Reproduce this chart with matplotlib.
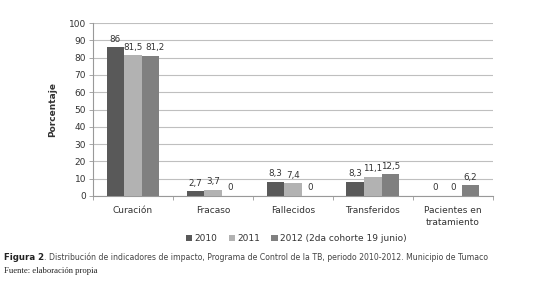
import numpy as np
import matplotlib.pyplot as plt

categories = ["Curación", "Fracaso", "Fallecidos", "Transferidos", "Pacientes en\ntratamiento"]
v2010 = [86, 2.7, 8.3, 8.3, 0]
v2011 = [81.5, 3.7, 7.4, 11.1, 0]
v2012 = [81.2, 0, 0, 12.5, 6.2]
series_names = ["2010", "2011", "2012 (2da cohorte 19 junio)"]
colors = ["#595959", "#b2b2b2", "#808080"]
labels2010 = ["86", "2,7", "8,3", "8,3", "0"]
labels2011 = ["81,5", "3,7", "7,4", "11,1", "0"]
labels2012 = ["81,2", "0", "0", "12,5", "6,2"]

fig = plt.figure(figsize=(5.34, 2.92), dpi=100)
ax = fig.add_axes([0.174, 0.329, 0.749, 0.592])

x = np.arange(len(categories))
w = 0.22
txt = "#333333"
for i, (vals, labs) in enumerate(zip([v2010, v2011, v2012], [labels2010, labels2011, labels2012])):
    pos = x + (i - 1) * w
    ax.bar(pos, vals, w, color=colors[i], label=series_names[i], zorder=3)
    for xp, v, lab in zip(pos, vals, labs):
        # nudge the last label of a crowded group a bit right, like the original
        dx = 0.06 if (i == 2 and v > 50) else 0
        ax.text(xp + dx, v + 2, lab, ha="center", va="bottom", fontsize=6.3, color=txt)

ax.set_xlim(-0.5, len(categories) - 0.5)
ax.set_ylim(0, 100)
ax.set_yticks(range(0, 101, 10))
ax.tick_params(axis="y", labelsize=6.5, colors="#999999", labelcolor=txt, length=3, width=0.6, pad=2)
ax.set_xticks(x)
ax.set_xticklabels(categories, fontsize=6.5, color=txt, linespacing=1.5)
ax.tick_params(axis="x", length=0, pad=7)
ax.set_xticks(np.arange(len(categories) + 1) - 0.5, minor=True)
ax.tick_params(axis="x", which="minor", length=3, width=0.6, colors="#999999")
ax.grid(axis="y", color="#bfbfbf", linewidth=0.8, zorder=0)
for s in ["top", "right"]:
    ax.spines[s].set_visible(False)
for s in ["left", "bottom"]:
    ax.spines[s].set_color("#999999")
    ax.spines[s].set_linewidth(0.8)
ax.set_ylabel("Porcentaje", fontsize=6.5, fontweight="bold", color=txt, labelpad=8)

fig.legend(loc="center", bbox_to_anchor=(0.555, 0.182), ncol=3, frameon=False, fontsize=6.5,
           handlelength=0.7, handleheight=0.7, handletextpad=0.3, columnspacing=1.2, labelcolor=txt)

# caption: bold "Figura 2" followed by the plain text
t = fig.text(0.007, 0.108, "Figura 2", fontsize=6.2, fontweight="bold", color="#222222")
plt.annotate(". Distribución de indicadores de impacto, Programa de Control de la TB, periodo 2010-2012. Municipio de Tumaco",
             xy=(1, 0), xycoords=t, va="bottom", fontsize=5.6, color="#444444")
fig.text(0.007, 0.065, "Fuente: elaboración propia", fontsize=6.2, family="Liberation Serif", color="#222222")

fig.savefig("out.png", dpi=100)
